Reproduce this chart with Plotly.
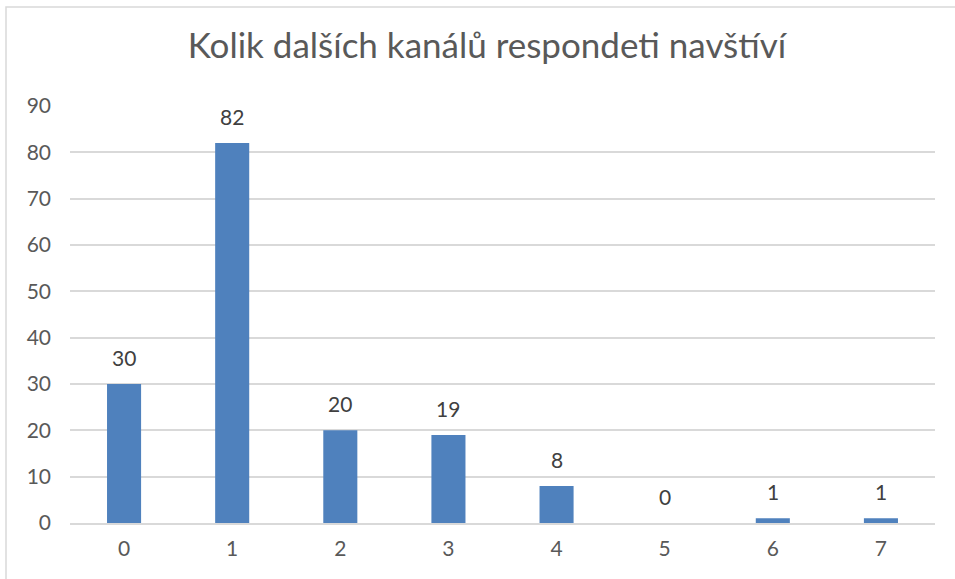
import plotly.graph_objects as go

# Dados
categorias = ['0', '1', '2', '3', '4', '5', '6', '7']
respondenti = [30, 82, 20, 19, 8, 0, 1, 1]
ticks_y = [0, 10, 20, 30, 40, 50, 60, 70, 80, 90]

COR_BARRA = '#4F81BD'
COR_GRADE = '#D9D9D9'
COR_TEXTO = '#595959'

LARGURA, ALTURA = 955, 579
M_L, M_R, M_T, M_B = 70, 20, 106, 56
PW = LARGURA - M_L - M_R
PH = ALTURA - M_T - M_B


def px_x(p):
    return (p - M_L) / PW


def px_y(p):
    return (ALTURA - M_B - p) / PH


fig = go.Figure()

fig.add_trace(go.Bar(
    x=categorias,
    y=respondenti,
    marker_color=COR_BARRA,
    marker_line_width=0,
    hovertemplate='%{x}: %{y}<extra></extra>',
))

# Rótulos de dados (um pouco acima das barras, como no Excel)
for c, v in zip(categorias, respondenti):
    fig.add_annotation(x=c, y=v, text=str(v), showarrow=False,
                       yanchor='bottom', yshift=12,
                       font=dict(size=21, color='#404040'))

# Moldura do gráfico
fig.add_shape(type='rect', xref='paper', yref='paper',
              x0=px_x(6), x1=px_x(975), y0=px_y(600), y1=px_y(7),
              line=dict(color='#D9D9D9', width=1.5), fillcolor='rgba(0,0,0,0)',
              layer='below')

fig.update_layout(
    title=dict(text='Kolik dalších kanálů respondeti navštíví',
               x=487 / LARGURA, xref='container', xanchor='center',
               y=1 - 46 / ALTURA, yanchor='middle',
               font=dict(size=35, color=COR_TEXTO)),
    xaxis=dict(
        type='category',
        showgrid=False,
        showline=True,
        linecolor=COR_GRADE,
        linewidth=2,
        ticks='',
        ticklabelstandoff=6,
        tickfont=dict(size=21, color=COR_TEXTO),
    ),
    yaxis=dict(
        range=[0, 90],
        tickvals=ticks_y,
        gridcolor=COR_GRADE,
        gridwidth=1.5,
        zeroline=False,
        ticks='',
        ticklabelstandoff=18,
        tickfont=dict(size=21, color=COR_TEXTO),
    ),
    bargap=0.685,
    width=LARGURA,
    height=ALTURA,
    margin=dict(l=M_L, r=M_R, t=M_T, b=M_B),
    paper_bgcolor='white',
    plot_bgcolor='white',
    font=dict(family='Lato, sans-serif'),
    showlegend=False,
)

fig.write_html('out.html', config={'displayModeBar': False},
               post_script="document.body.style.margin='0';")
